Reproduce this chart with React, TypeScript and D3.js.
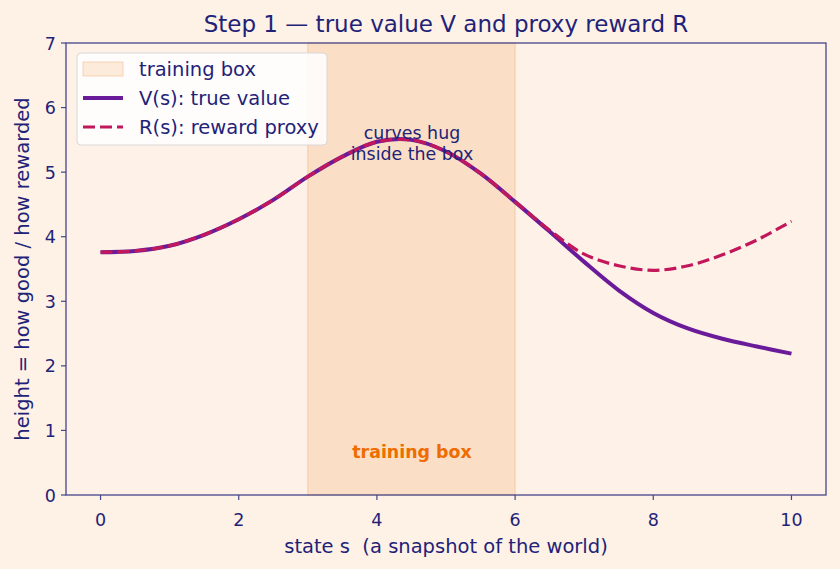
import React from 'react';
import * as d3 from 'd3';

// sampled states and the two curves
const states = [0, 0.5, 1, 1.5, 2, 2.5, 3, 3.5, 4, 4.5, 5, 5.5, 6, 6.5, 7, 7.5, 8, 8.5, 9, 9.5, 10];
const trueValue = [3.76, 3.78, 3.86, 4.03, 4.27, 4.57, 4.93, 5.24, 5.47, 5.5, 5.32, 4.98, 4.54, 4.08, 3.61, 3.17, 2.82, 2.58, 2.42, 2.3, 2.19];
const rewardProxy = [3.76, 3.78, 3.86, 4.03, 4.27, 4.57, 4.93, 5.24, 5.47, 5.5, 5.32, 4.98, 4.54, 4.1, 3.73, 3.55, 3.48, 3.55, 3.72, 3.95, 4.24];
const trainingBox = [3, 6];
const xTicks = [0, 2, 4, 6, 8, 10];
const yTicks = [0, 1, 2, 3, 4, 5, 6, 7];

const W = 840, H = 569;
const m = { left: 66, right: 826, top: 43, bottom: 495 };
const navy = '#1f2378';
const spine = '#45458a';
const font = 'DejaVu Sans, sans-serif';

export default function App() {
  const x = d3.scaleLinear().domain([-0.5, 10.5]).range([m.left, m.right]);
  const y = d3.scaleLinear().domain([0, 7]).range([m.bottom, m.top]);

  const line = (vals: number[]) =>
    d3.line<number>()
      .x((_, i) => x(states[i]))
      .y((d) => y(d))
      .curve(d3.curveCatmullRom)(vals) || '';

  return (
    <svg width={W} height={H} style={{ position: 'absolute', left: 0, top: 0 }} fontFamily={font}>
      <rect width={W} height={H} fill="#fef1e6" />
      <rect x={m.left} y={m.top} width={m.right - m.left} height={m.bottom - m.top} fill="#fef1e7" />
      {/* training box span */}
      <rect x={x(trainingBox[0])} y={m.top} width={x(trainingBox[1]) - x(trainingBox[0])}
        height={m.bottom - m.top} fill="#f7c79c" fillOpacity={0.45} stroke="#f5c08f" strokeOpacity={0.7} />

      <path d={line(trueValue)} fill="none" stroke="#6a1b9a" strokeWidth={4} />
      <path d={line(rewardProxy)} fill="none" stroke="#c2185b" strokeWidth={3.2} strokeDasharray="12,5" />

      <text x={412} y={139} textAnchor="middle" fontSize={17.4} fill={navy}>curves hug</text>
      <text x={412} y={160} textAnchor="middle" fontSize={17.4} fill={navy}>inside the box</text>
      <text x={412} y={458} textAnchor="middle" fontSize={17.4} fontWeight="bold" fill="#ef6c00">training box</text>

      {/* frame */}
      <rect x={m.left} y={m.top} width={m.right - m.left} height={m.bottom - m.top} fill="none" stroke={spine} strokeWidth={1.3} />

      {xTicks.map((t) => (
        <g key={'x' + t}>
          <line x1={x(t)} x2={x(t)} y1={m.bottom} y2={m.bottom + 5} stroke={spine} strokeWidth={1.2} />
          <text x={x(t)} y={m.bottom + 31} textAnchor="middle" fontSize={17.5} fill={navy}>{t}</text>
        </g>
      ))}
      {yTicks.map((t) => (
        <g key={'y' + t}>
          <line x1={m.left - 5} x2={m.left} y1={y(t)} y2={y(t)} stroke={spine} strokeWidth={1.2} />
          <text x={m.left - 10} y={y(t) + 6.5} textAnchor="end" fontSize={17.5} fill={navy}>{t}</text>
        </g>
      ))}

      <text x={(m.left + m.right) / 2} y={32} textAnchor="middle" fontSize={23} fill={navy}>
        Step 1 — true value V and proxy reward R
      </text>
      <text x={(m.left + m.right) / 2} y={553} textAnchor="middle" fontSize={19.5} fill={navy} xmlSpace="preserve">
        state s  (a snapshot of the world)
      </text>
      <text transform={`translate(29,${(m.top + m.bottom) / 2}) rotate(-90)`} textAnchor="middle" fontSize={19.5} fill={navy}>
        height = how good / how rewarded
      </text>

      {/* legend */}
      <g transform="translate(77,53)">
        <rect width={250} height={92} rx={4} fill="#ffffff" fillOpacity={0.85} stroke="#d8d8d8" />
        <rect x={6} y={9} width={40} height={14} fill="#f7c79c" fillOpacity={0.35} stroke="#f5c08f" strokeOpacity={0.6} />
        <text x={62} y={23} fontSize={19.5} fill={navy}>training box</text>
        <line x1={6} x2={46} y1={45} y2={45} stroke="#6a1b9a" strokeWidth={4} />
        <text x={62} y={52} fontSize={19.5} fill={navy}>V(s): true value</text>
        <line x1={6} x2={46} y1={74} y2={74} stroke="#c2185b" strokeWidth={3.2} strokeDasharray="12,5" />
        <text x={62} y={81} fontSize={19.5} fill={navy}>R(s): reward proxy</text>
      </g>
    </svg>
  );
}
